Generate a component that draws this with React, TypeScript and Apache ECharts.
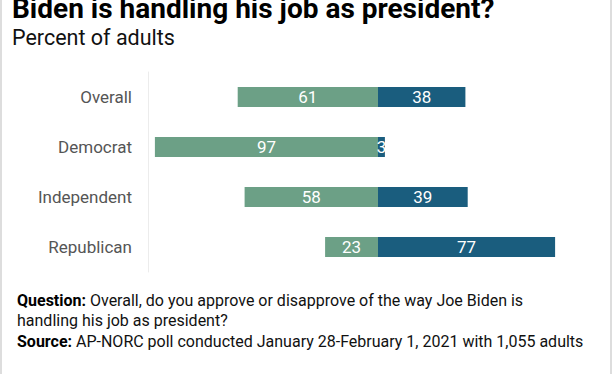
import React, { useEffect, useRef } from "react";
import * as echarts from "echarts";

const categories = ["Overall", "Democrat", "Independent", "Republican"];
const approve = [61, 97, 58, 23];
const disapprove = [38, 3, 39, 77];

const GREEN = "#6ca086";
const BLUE = "#1a5d7e";
const FONT = "Roboto, 'Noto Sans', sans-serif";

export default function App() {
  const ref = useRef<HTMLDivElement>(null);
  useEffect(() => {
    if (!ref.current) return;
    const chart = echarts.init(ref.current, undefined, { renderer: "svg" });
    const rich = { b: { fontWeight: "bold", fontSize: 16, fontFamily: FONT, fill: "#000000" } };
    chart.setOption({
      animation: false,
      backgroundColor: "#ffffff",
      textStyle: { fontFamily: FONT },
      grid: { left: 148, right: 4, top: 72, height: 200, containLabel: false },
      xAxis: {
        type: "value",
        min: -100,
        max: 100,
        show: false,
      },
      yAxis: {
        type: "category",
        data: categories,
        inverse: true,
        axisTick: { show: false },
        axisLine: { show: true, onZero: false, lineStyle: { color: "#ececec", width: 1 } },
        axisLabel: { color: "#555555", fontSize: 17, margin: 16, fontFamily: FONT },
        splitLine: { show: false },
      },
      series: [
        {
          name: "Approve",
          type: "bar",
          stack: "total",
          barWidth: 20,
          data: approve.map((v) => -v),
          itemStyle: { color: GREEN },
          label: {
            show: true,
            position: "inside",
            color: "#ffffff",
            fontSize: 17,
            fontFamily: FONT,
            formatter: (p: any) => String(Math.abs(p.value)),
          },
        },
        {
          name: "Disapprove",
          type: "bar",
          stack: "total",
          barWidth: 20,
          data: disapprove,
          itemStyle: { color: BLUE },
          label: {
            show: true,
            position: "inside",
            color: "#ffffff",
            fontSize: 17,
            fontFamily: FONT,
            formatter: (p: any) => String(p.value),
          },
        },
      ],
      graphic: [
        { type: "rect", left: 0, top: 0, shape: { width: 2, height: 374 }, style: { fill: "#dddddd" } },
        { type: "rect", left: 610, top: 0, shape: { width: 2, height: 374 }, style: { fill: "#dddddd" } },
        {
          type: "text",
          x: 12,
          y: 8.5,
          style: {
            text: "Biden is handling his job as president?",
            font: `bold 28px ${FONT}`,
            fill: "#000000",
            verticalAlign: "middle",
          },
        },
        {
          type: "text",
          x: 12,
          y: 37.5,
          style: {
            text: "Percent of adults",
            font: `21.5px ${FONT}`,
            fill: "#111111",
            verticalAlign: "middle",
          },
        },
        {
          type: "text",
          x: 17,
          y: 300,
          style: {
            text: "{b|Question:} Overall, do you approve or disapprove of the way Joe Biden is",
            font: `16px ${FONT}`,
            fill: "#111111",
            verticalAlign: "middle",
            rich,
          },
        },
        {
          type: "text",
          x: 17,
          y: 320.5,
          style: {
            text: "handling his job as president?",
            font: `16px ${FONT}`,
            fill: "#111111",
            verticalAlign: "middle",
          },
        },
        {
          type: "text",
          x: 17,
          y: 341,
          style: {
            text: "{b|Source:} AP-NORC poll conducted January 28-February 1, 2021 with 1,055 adults",
            font: `16px ${FONT}`,
            fill: "#111111",
            verticalAlign: "middle",
            rich,
          },
        },
      ],
    });
    return () => chart.dispose();
  }, []);
  return (
    <div
      ref={ref}
      style={{ position: "fixed", left: 0, top: 0, width: 612, height: 374 }}
    />
  );
}
